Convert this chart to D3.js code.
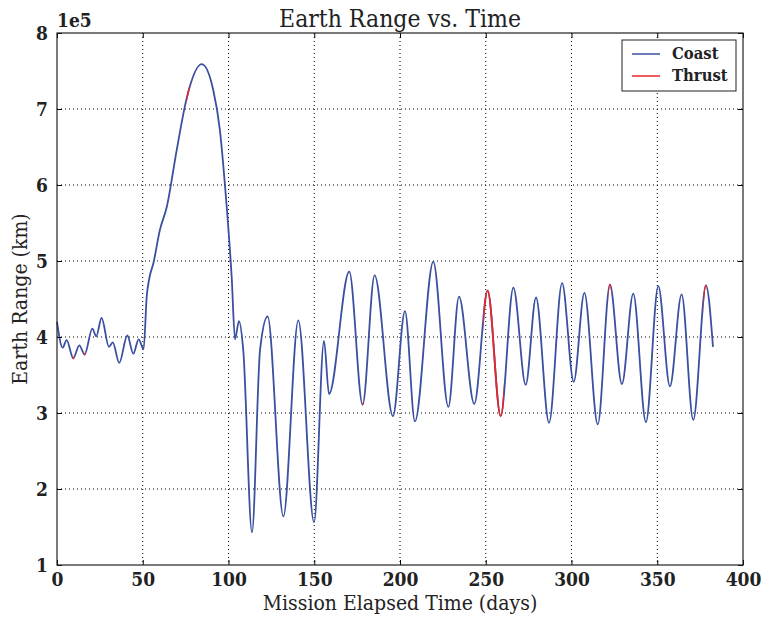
<!DOCTYPE html>
<html>
<head>
<meta charset="utf-8">
<script src="https://cdn.jsdelivr.net/npm/d3@7"></script>
<style>
  body { margin: 0; background: #fff; }
  svg { display: block; }
  text { font-stretch: condensed; }
</style>
</head>
<body>
<div id="chart"></div>
<script>
// Key points of the trajectory (days, range in units of 1e5 km)
const days = [0, 3.3, 5.6, 9.5, 13, 16.1, 20.6, 22.9, 26, 30.3, 32.5, 36.3, 41, 44.5, 47.6, 50.5,
  52.3, 53.8, 56.2, 60, 64, 69.8, 75.6, 84.4, 91.1, 95, 98, 101.9, 103.8, 106.1, 108.6,
  113.7, 118.4, 122.8, 132, 140.7, 149.9, 155.7, 158.6, 170.4, 178.2, 185.2, 195.9,
  202.9, 208.7, 219.4, 228.2, 234.4, 243.3, 251.1, 258.7, 266.1, 273.3, 279.3, 286.9,
  294.5, 301.3, 307.5, 315.3, 322.4, 329.4, 336, 343.4, 350.6, 357.4, 364.2, 371, 378.4, 382.5];
const range = [4.2, 3.86, 3.96, 3.72, 3.89, 3.77, 4.11, 4.01, 4.25, 3.87, 3.93, 3.66, 4.02, 3.78, 3.97, 3.84,
  4.53, 4.77, 4.97, 5.41, 5.71, 6.46, 7.14, 7.59, 7.25, 6.72, 5.98, 4.77, 3.97, 4.21, 3.83,
  1.43, 3.83, 4.27, 1.64, 4.22, 1.56, 3.95, 3.25, 4.86, 3.11, 4.81, 2.96,
  4.34, 2.89, 4.99, 3.08, 4.53, 3.12, 4.61, 2.96, 4.65, 3.37, 4.52, 2.87,
  4.71, 3.41, 4.58, 2.85, 4.69, 3.38, 4.57, 2.88, 4.67, 3.35, 4.56, 2.91, 4.68, 3.87];

// Thrust arcs (start day, end day)
const thrustArcs = [[9.0, 10.0], [15.6, 16.6], [75.6, 77.2], [177.8, 178.6], [248.6, 260.6], [321.6, 323.2], [377.0, 378.8]];

const xTicks = [0, 50, 100, 150, 200, 250, 300, 350, 400];
const yTicks = [1, 2, 3, 4, 5, 6, 7, 8];

const W = 763, H = 617;
const margin = { top: 33, right: 20, bottom: 52, left: 57 };
const innerW = W - margin.left - margin.right;
const innerH = H - margin.top - margin.bottom;

const svg = d3.select("#chart").append("svg")
  .attr("width", W)
  .attr("height", H);

const x = d3.scaleLinear().domain([0, 400]).range([margin.left, margin.left + innerW]);
const y = d3.scaleLinear().domain([1, 8]).range([margin.top + innerH, margin.top]);

const tickFont = "'DejaVu Serif', serif";

// Grid (dotted black)
const grid = svg.append("g");
grid.selectAll(".vg")
  .data(xTicks.slice(1, -1))
  .join("line")
  .attr("x1", d => x(d)).attr("x2", d => x(d))
  .attr("y1", margin.top).attr("y2", margin.top + innerH)
  .attr("stroke", "#000").attr("stroke-width", 1).attr("stroke-dasharray", "1,3");
grid.selectAll(".hg")
  .data(yTicks.slice(1, -1))
  .join("line")
  .attr("y1", d => y(d)).attr("y2", d => y(d))
  .attr("x1", margin.left).attr("x2", margin.left + innerW)
  .attr("stroke", "#000").attr("stroke-width", 1).attr("stroke-dasharray", "1,3");

// Data line
const pts = days.map((d, i) => [d, range[i]]);
const line = d3.line()
  .x(d => x(d[0]))
  .y(d => y(d[1]))
  .curve(d3.curveMonotoneX);

const defs = svg.append("defs");
thrustArcs.forEach((a, i) => {
  defs.append("clipPath").attr("id", "thr" + i)
    .append("rect")
    .attr("x", x(a[0])).attr("width", x(a[1]) - x(a[0]))
    .attr("y", margin.top).attr("height", innerH);
});

svg.append("path")
  .datum(pts)
  .attr("d", line)
  .attr("fill", "none")
  .attr("stroke", "#3a50a0")
  .attr("stroke-width", 1.8);

thrustArcs.forEach((a, i) => {
  svg.append("path")
    .datum(pts)
    .attr("d", line)
    .attr("clip-path", `url(#thr${i})`)
    .attr("fill", "none")
    .attr("stroke", "#e8262a")
    .attr("stroke-width", 1.8);
});

// Axes: inward ticks on all four sides
const axB = d3.axisBottom(x).tickValues(xTicks).tickSize(-5).tickPadding(8).tickFormat(d3.format("d"));
const axT = d3.axisTop(x).tickValues(xTicks).tickSize(-5).tickFormat("");
const axL = d3.axisLeft(y).tickValues(yTicks).tickSize(-5).tickPadding(9).tickFormat(d3.format("d"));
const axR = d3.axisRight(y).tickValues(yTicks).tickSize(-5).tickFormat("");

function styleAxis(g) {
  g.select(".domain").remove();
  g.selectAll(".tick line").attr("stroke", "#000");
  g.selectAll(".tick text")
    .attr("fill", "#222")
    .style("font-family", tickFont)
    .style("font-weight", "bold")
    .style("font-size", "19px");
}

svg.append("g").attr("transform", `translate(0,${margin.top + innerH})`).call(axB).call(styleAxis);
svg.append("g").attr("transform", `translate(0,${margin.top})`).call(axT).call(styleAxis);
svg.append("g").attr("transform", `translate(${margin.left},0)`).call(axL).call(styleAxis);
svg.append("g").attr("transform", `translate(${margin.left + innerW},0)`).call(axR).call(styleAxis);

// Frame
svg.append("rect")
  .attr("x", margin.left).attr("y", margin.top)
  .attr("width", innerW).attr("height", innerH)
  .attr("fill", "none").attr("stroke", "#222").attr("stroke-width", 1.2);

// Offset text
svg.append("text")
  .attr("x", margin.left).attr("y", margin.top - 6)
  .attr("fill", "#222")
  .style("font-family", tickFont).style("font-weight", "bold").style("font-size", "19px")
  .text("1e5");

// Title and labels
svg.append("text")
  .attr("x", margin.left + innerW / 2).attr("y", 27)
  .attr("text-anchor", "middle")
  .attr("fill", "#222")
  .style("font-family", tickFont).style("font-size", "24.5px")
  .text("Earth Range vs. Time");

svg.append("text")
  .attr("x", margin.left + innerW / 2).attr("y", 610)
  .attr("text-anchor", "middle")
  .attr("fill", "#222")
  .style("font-family", tickFont).style("font-size", "21px")
  .text("Mission Elapsed Time (days)");

svg.append("text")
  .attr("transform", `translate(27,${margin.top + innerH / 2}) rotate(-90)`)
  .attr("text-anchor", "middle")
  .attr("fill", "#222")
  .style("font-family", tickFont).style("font-size", "21px")
  .text("Earth Range (km)");

// Legend
const lg = svg.append("g").attr("transform", `translate(622,40)`);
lg.append("rect")
  .attr("width", 114).attr("height", 51)
  .attr("fill", "#fff").attr("stroke", "#222").attr("stroke-width", 1);
const legendItems = [["Coast", "#3a50a0"], ["Thrust", "#e8262a"]];
legendItems.forEach((it, i) => {
  const yy = 14 + i * 22;
  lg.append("line")
    .attr("x1", 10).attr("x2", 38).attr("y1", yy).attr("y2", yy)
    .attr("stroke", it[1]).attr("stroke-width", 1.5);
  lg.append("text")
    .attr("x", 50).attr("y", yy + 5)
    .attr("fill", "#222")
    .style("font-family", tickFont).style("font-weight", "bold").style("font-size", "16.5px")
    .text(it[0]);
});
</script>
</body>
</html>
